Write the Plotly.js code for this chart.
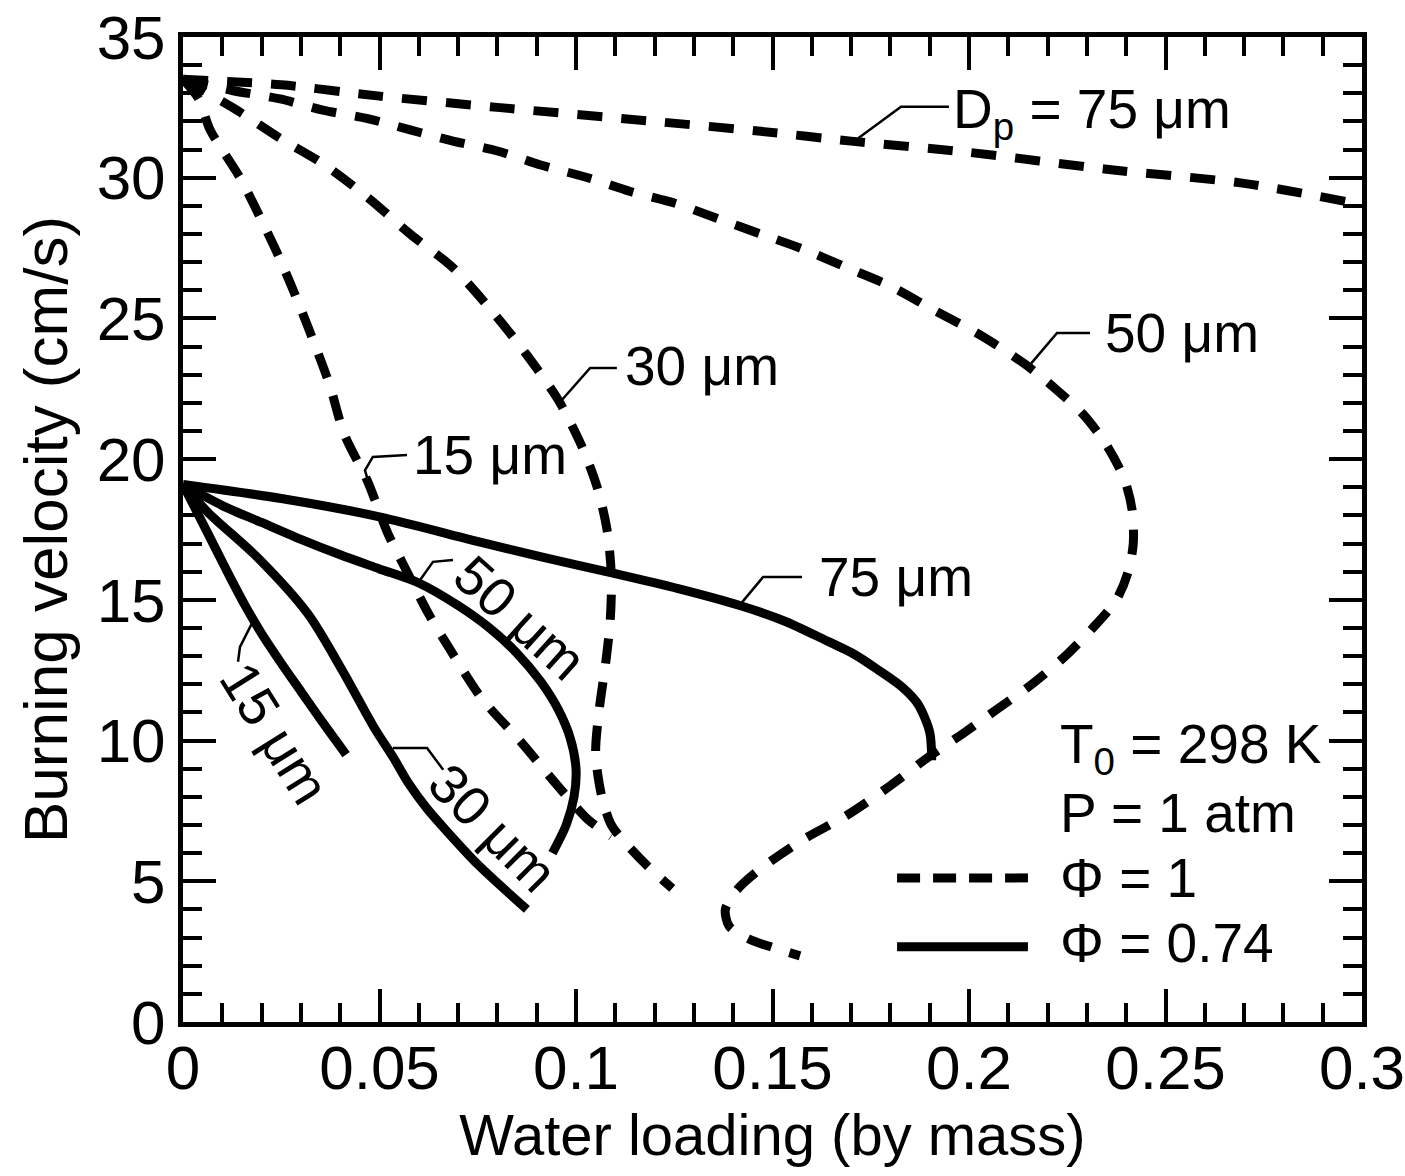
<!DOCTYPE html>
<html>
<head>
<meta charset="utf-8">
<script src="https://cdn.plot.ly/plotly-3.0.1.min.js"></script>
<style>html,body{margin:0;padding:0;background:#fff}</style>
</head>
<body>
<div id="chart" style="width:1405px;height:1176px"></div>
<script>
// ---------- data ----------
// Phi = 1 (dashed)
const dash15_x = [0, 0.004, 0.0069, 0.0145, 0.0196, 0.0247, 0.0298, 0.034, 0.0374, 0.041, 0.047, 0.052, 0.057, 0.0625, 0.069, 0.076, 0.086, 0.095, 0.103, 0.109];
const dash15_y = [33.5, 32.8, 31.7, 30.0, 28.6, 27.1, 25.4, 23.9, 22.6, 20.9, 19.2, 17.4, 16.0, 14.5, 13.0, 11.5, 9.95, 8.45, 7.2, 6.6];

const dash30_x = [0, 0.0137, 0.0247, 0.0356, 0.047, 0.0578, 0.0687, 0.079, 0.0875, 0.0955, 0.1015, 0.1055, 0.108, 0.109, 0.1087, 0.1075, 0.106, 0.105, 0.1065, 0.109, 0.113, 0.1185, 0.1245];
const dash30_y = [33.5, 32.4, 31.4, 30.5, 29.3, 28.0, 26.8, 25.2, 23.7, 22.1, 20.45, 18.95, 17.4, 15.8, 14.25, 12.7, 11.2, 9.55, 8.05, 7.0, 6.3, 5.5, 4.75];

const dash50_x = [0, 0.0125, 0.0247, 0.0356, 0.047, 0.0578, 0.0687, 0.08, 0.091, 0.103, 0.114, 0.125, 0.136, 0.147, 0.158, 0.169, 0.18, 0.191, 0.203, 0.214, 0.222, 0.229, 0.235, 0.2395, 0.2415, 0.2418, 0.2405, 0.2375, 0.2315, 0.2245, 0.216, 0.207, 0.199, 0.19, 0.18, 0.169, 0.158, 0.147, 0.141, 0.138, 0.139, 0.144, 0.15, 0.157];
const dash50_y = [33.5, 33.1, 32.8, 32.4, 32.1, 31.7, 31.3, 30.95, 30.45, 30.0, 29.5, 29.1, 28.55, 28.0, 27.45, 26.8, 26.15, 25.3, 24.4, 23.4, 22.5, 21.6, 20.5, 19.3, 18.2, 17.0, 16.0, 15.0, 14.0, 13.0, 12.0, 11.1, 10.3, 9.45, 8.4, 7.35, 6.5, 5.45, 4.7, 4.0, 3.4, 2.95, 2.65, 2.35];

const dash75_x = [0, 0.025, 0.05, 0.08, 0.12, 0.147, 0.17, 0.2, 0.235, 0.27, 0.296];
const dash75_y = [33.5, 33.3, 32.9, 32.5, 32.0, 31.65, 31.3, 30.9, 30.3, 29.8, 29.15];

// Phi = 0.74 (solid)
const solid15_x = [0, 0.004, 0.008, 0.012, 0.016, 0.02, 0.025, 0.03, 0.035, 0.0415];
const solid15_y = [19.1, 18.0, 16.9, 15.8, 14.75, 13.8, 12.75, 11.75, 10.75, 9.5];

const solid30_x = [0, 0.0064, 0.019, 0.0318, 0.0405, 0.0489, 0.0535, 0.0573, 0.062, 0.067, 0.075, 0.0875];
const solid30_y = [19.1, 18.1, 16.5, 14.5, 12.5, 10.4, 9.4, 8.5, 7.6, 6.8, 5.6, 4.0];

const solid50_x = [0, 0.01, 0.02, 0.03, 0.04, 0.05, 0.06, 0.07, 0.078, 0.085, 0.091, 0.0955, 0.0985, 0.1, 0.0995, 0.0975, 0.094];
const solid50_y = [19.1, 18.35, 17.75, 17.15, 16.6, 16.1, 15.6, 14.8, 14.0, 13.1, 12.1, 11.1, 10.1, 9.0, 8.0, 7.0, 6.0];

const solid75_x = [0, 0.025, 0.05, 0.0743, 0.092, 0.1094, 0.126, 0.1417, 0.153, 0.163, 0.171, 0.177, 0.183, 0.187, 0.19, 0.1905];
const solid75_y = [19.1, 18.6, 17.95, 17.1, 16.5, 15.95, 15.4, 14.8, 14.25, 13.6, 13.05, 12.5, 11.9, 11.3, 10.3, 9.3];

// axis ticks
const xTickVals = [0, 0.05, 0.1, 0.15, 0.2, 0.25, 0.3];
const xTickText = ['0', '0.05', '0.1', '0.15', '0.2', '0.25', '0.3'];
const yTickVals = [0, 5, 10, 15, 20, 25, 30, 35];
const yTickText = ['0', '5', '10', '15', '20', '25', '30', '35'];

// curve labels: text, anchor point, rotation
const labelText  = ['D<sub>p</sub> = 75 μm', '50 μm', '30 μm', '15 μm', '75 μm', '50 μm', '30 μm', '15 μm'];
const labelX     = [0.1955, 0.234, 0.112, 0.058, 0.1613, 0.0858, 0.0789, 0.0233];
const labelY     = [32.3, 24.5, 23.3, 20.15, 15.8, 14.36, 6.9, 10.27];
const labelAngle = [0, 0, 0, 0, 0, 42, 45, 58];
const labelAnchor = ['left', 'left', 'left', 'left', 'left', 'center', 'center', 'center'];

// leader lines (polyline per label)
const leaders = [
  {x: [0.1718, 0.1827, 0.1949], y: [31.4, 32.52, 32.52]},
  {x: [0.2155, 0.2224, 0.2308], y: [23.35, 24.48, 24.48]},
  {x: [0.0964, 0.1036, 0.1104], y: [22.1, 23.24, 23.24]},
  {x: [0.0476, 0.0463, 0.0483, 0.057], y: [19.0, 19.6, 20.08, 20.15]},
  {x: [0.1417, 0.1476, 0.1575], y: [14.82, 15.81, 15.81]},
  {x: [0.0598, 0.0636, 0.0687], y: [15.6, 16.35, 16.42]},
  {x: [0.0534, 0.0621, 0.0662], y: [9.74, 9.74, 8.96]},
  {x: [0.0176, 0.0145, 0.014], y: [14.18, 13.33, 12.8]}
];

// key (conditions + line-style legend)
const keyText = ['T<sub>0</sub> = 298 K', 'P = 1 atm', 'Φ = 1', 'Φ = 0.74'];
const keyTextX = 0.2226;
const keyTextY = [9.74, 7.43, 5.12, 2.81];
const keySampleX = [0.1817, 0.215];
const keySampleY = [5.12, 2.67];
const keySampleDash = ['23px,13px', 'solid'];

// ---------- build ----------
const FONT = 'Liberation Sans, Arial, Helvetica, sans-serif';
const DASH = '25px,19px';
const LW = 9;

function curve(x, y, dash) {
  return {x: x, y: y, type: 'scatter', mode: 'lines', hoverinfo: 'skip', showlegend: false,
    line: {color: '#000', width: LW, dash: dash, shape: 'spline', smoothing: 0.8}};
}

const traces = [
  curve(dash15_x, dash15_y, DASH),
  curve(dash30_x, dash30_y, DASH),
  curve(dash50_x, dash50_y, DASH),
  curve(dash75_x, dash75_y, DASH),
  curve(solid15_x, solid15_y, 'solid'),
  curve(solid30_x, solid30_y, 'solid'),
  curve(solid50_x, solid50_y, 'solid'),
  curve(solid75_x, solid75_y, 'solid')
];

leaders.forEach(function (L) {
  traces.push({x: L.x, y: L.y, type: 'scatter', mode: 'lines', hoverinfo: 'skip', showlegend: false,
    line: {color: '#000', width: 2.5}});
});

keySampleY.forEach(function (yy, i) {
  traces.push({x: keySampleX, y: [yy, yy], type: 'scatter', mode: 'lines', hoverinfo: 'skip', showlegend: false,
    line: {color: '#000', width: LW, dash: keySampleDash[i]}});
});

const annotations = [];
labelText.forEach(function (t, i) {
  annotations.push({x: labelX[i], y: labelY[i], xref: 'x', yref: 'y', text: t, showarrow: false,
    xanchor: labelAnchor[i], yanchor: 'middle', textangle: labelAngle[i],
    font: {family: FONT, size: 55, color: '#000'}});
});
keyText.forEach(function (t, i) {
  annotations.push({x: keyTextX, y: keyTextY[i], xref: 'x', yref: 'y', text: t, showarrow: false,
    xanchor: 'left', yanchor: 'middle', font: {family: FONT, size: 55, color: '#000'}});
});

const axisCommon = {
  showline: true, linecolor: '#000', linewidth: 5, mirror: 'ticks',
  ticks: 'inside', tickcolor: '#000', tickwidth: 4, ticklen: 33,
  showgrid: false, zeroline: false, fixedrange: true,
  ticklabeloverflow: 'allow',
  tickfont: {family: FONT, size: 62, color: '#000'}
};

const layout = {
  width: 1405, height: 1176,
  margin: {l: 183, r: 43, t: 37, b: 154, pad: 0},
  paper_bgcolor: '#fff', plot_bgcolor: '#fff',
  font: {family: FONT, color: '#000'},
  showlegend: false,
  xaxis: Object.assign({}, axisCommon, {
    range: [0, 0.3], tickmode: 'array', tickvals: xTickVals, ticktext: xTickText,
    ticklabelstandoff: -12,
    minor: {ticks: 'inside', dtick: 0.01, ticklen: 19, tickwidth: 4, tickcolor: '#000', showgrid: false},
    title: {text: 'Water loading (by mass)', font: {family: FONT, size: 58, color: '#000'}, standoff: 8}
  }),
  yaxis: Object.assign({}, axisCommon, {
    range: [0, 35], tickmode: 'array', tickvals: yTickVals, ticktext: yTickText,
    minor: {ticks: 'inside', dtick: 1, ticklen: 19, tickwidth: 4, tickcolor: '#000', showgrid: false},
    title: {text: 'Burning velocity (cm/s)', font: {family: FONT, size: 62, color: '#000'}, standoff: 10}
  }),
  annotations: annotations
};

Plotly.newPlot('chart', traces, layout, {displayModeBar: false, staticPlot: true});
</script>
</body>
</html>
